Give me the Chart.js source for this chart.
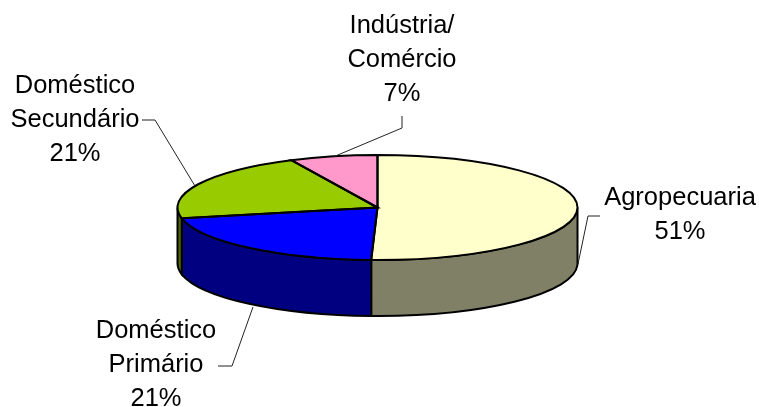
<!DOCTYPE html>
<html>
<head>
<meta charset="utf-8">
<style>
  html, body { margin: 0; padding: 0; background: #fff; }
  canvas { display: block; }
</style>
<script src="https://cdn.jsdelivr.net/npm/chart.js@4/dist/chart.umd.min.js"></script>
</head>
<body>
<canvas id="myChart" width="759" height="407"></canvas>
<script>
// data
const categories = ['Agropecuaria', 'Doméstico\nPrimário', 'Doméstico\nSecundário', 'Indústria/\nComércio'];
const shares = [50.5, 21.2, 21.2, 7.1];
const topColors = ['#ffffcc', '#0000ff', '#99cc00', '#ff99cc'];
const sideColors = ['#808066', '#000080', '#4d6600', '#804d66'];

// label placement (centre x, first line y) and leader lines
const labelPos = [[680, 198], [156, 331], [75, 86], [402, 26]];
const leaders = [
  [[600, 216], [588, 216], [578, 264]],
  [[218, 366], [232, 366], [253, 307]],
  [[142, 120], [155, 120], [195, 186]],
  [[402, 116], [402, 128], [333, 157]]
];

const TILT = 0.2625;
const DEPTH = 56;
const CENTER_Y = 207.5;
const LINE_H = 34;

function faceTransform(ctx, el) {
  ctx.translate(el.x, CENTER_Y);
  ctx.scale(1, TILT);
  ctx.translate(-el.x, -el.y);
}

const pie3d = {
  id: 'pie3d',
  beforeDatasetsDraw(chart) {
    const ctx = chart.ctx;
    const arcs = chart.getDatasetMeta(0).data;
    // side wall, only the front half of the ellipse can be seen
    arcs.forEach((el, i) => {
      const a0 = Math.max(el.startAngle, 0);
      const a1 = Math.min(el.endAngle, Math.PI);
      if (a1 <= a0) return;
      const rx = el.outerRadius, ry = rx * TILT;
      ctx.beginPath();
      ctx.ellipse(el.x, CENTER_Y, rx, ry, 0, a0, a1);
      ctx.ellipse(el.x, CENTER_Y + DEPTH, rx, ry, 0, a1, a0, true);
      ctx.closePath();
      ctx.fillStyle = sideColors[i];
      ctx.fill();
      ctx.strokeStyle = '#000';
      ctx.lineWidth = 2;
      ctx.stroke();
    });
    ctx.save();
    faceTransform(ctx, arcs[0]);
  },
  afterDatasetsDraw(chart) {
    const ctx = chart.ctx;
    ctx.restore();
    const arcs = chart.getDatasetMeta(0).data;
    // outline of the top face, done here so the line keeps its width
    arcs.forEach((el) => {
      const rx = el.outerRadius, ry = rx * TILT;
      ctx.beginPath();
      ctx.moveTo(el.x, CENTER_Y);
      ctx.ellipse(el.x, CENTER_Y, rx, ry, 0, el.startAngle, el.endAngle);
      ctx.closePath();
      ctx.strokeStyle = '#000';
      ctx.lineWidth = 2;
      ctx.stroke();
    });
    // leader lines
    ctx.strokeStyle = '#222';
    ctx.lineWidth = 1;
    leaders.forEach((pts) => {
      ctx.beginPath();
      pts.forEach((p, k) => k ? ctx.lineTo(p[0], p[1]) : ctx.moveTo(p[0], p[1]));
      ctx.stroke();
    });
    // labels
    ctx.fillStyle = '#000';
    ctx.font = '25.5px "Liberation Sans", Arial, sans-serif';
    ctx.textAlign = 'center';
    ctx.textBaseline = 'middle';
    categories.forEach((name, i) => {
      const lines = name.split('\n').concat(Math.round(shares[i]) + '%');
      lines.forEach((t, k) => ctx.fillText(t, labelPos[i][0], labelPos[i][1] + k * LINE_H));
    });
  }
};

const config = {
  type: 'pie',
  data: {
    labels: categories,
    datasets: [{
      data: shares,
      backgroundColor: topColors,
      borderWidth: 0,
      radius: 200
    }]
  },
  options: {
    responsive: false,
    animation: false,
    layout: { padding: { right: 4 } },
    plugins: { legend: { display: false }, tooltip: { enabled: false } }
  },
  plugins: [pie3d]
};

const myChart = new Chart(document.getElementById('myChart'), config);
</script>
</body>
</html>
